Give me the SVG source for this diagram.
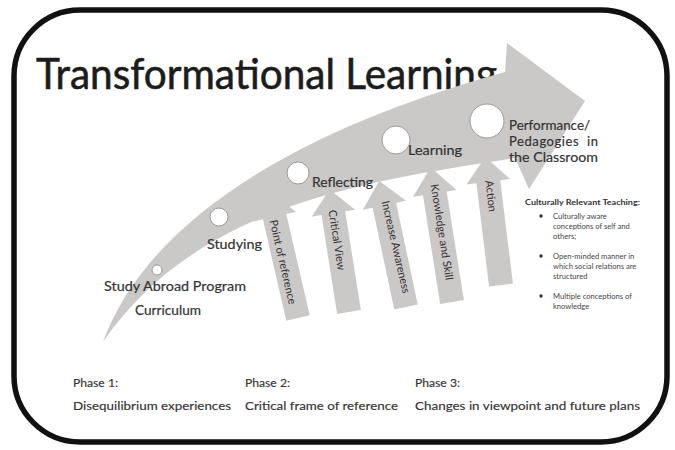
<svg xmlns="http://www.w3.org/2000/svg" width="675" height="450" viewBox="0 0 675 450">
  <style>
    .frame { fill: #ffffff; stroke: #111111; stroke-width: 5.5; }
    .band { fill: #cbc8c8; }
    .stage { fill: #ffffff; stroke: #9a9898; stroke-width: 1; }
    .title { font-family: Lato, "Liberation Sans", sans-serif; font-size: 43px; fill: #1c1c1c; stroke: #1c1c1c; stroke-width: 0.6; }
    .lbl { font-family: Lato, "Liberation Sans", sans-serif; font-size: 13px; fill: #333333; stroke: #333333; stroke-width: 0.2; white-space: pre; }
    .ph { font-family: Lato, "Liberation Sans", sans-serif; font-size: 12px; fill: #333333; stroke: #333333; stroke-width: 0.15; }
    .in { font-family: Lato, "Liberation Sans", sans-serif; font-size: 11px; fill: #333333; text-anchor: middle; }
    .crt { font-family: Lato, "Liberation Sans", sans-serif; font-size: 7.6px; fill: #444444; }
    .crt-h { font-weight: bold; fill: #333333; }
  </style>
  <defs>
    <!-- upward input arrow, origin at the bottom centre of the shaft -->
    <polygon id="upArrow" points="-12,0 -12,-100 -22,-100 0,-124 22,-100 12,-100 12,0"/>
  </defs>

  <rect class="frame" x="14" y="10" width="653" height="432" rx="66" ry="66"/>

  <text class="title" x="36" y="89" textLength="461" lengthAdjust="spacingAndGlyphs">Transformational Learning</text>

  <!-- input arrows feeding into the main curve -->
  <g id="connectors" class="band">
    <g id="in-point"><use href="#upArrow" transform="translate(298,318) rotate(-13) scale(1,1.04)"/></g>
    <g id="in-critical"><use href="#upArrow" transform="translate(349,312) rotate(-9)"/></g>
    <g id="in-awareness"><use href="#upArrow" transform="translate(406,307) rotate(-12) scale(1,1.04)"/></g>
    <g id="in-knowledge"><use href="#upArrow" transform="translate(452,302) rotate(-9) scale(1,1.1)"/></g>
    <g id="in-action"><use href="#upArrow" transform="translate(501,285) rotate(-7) scale(1,1.04)"/></g>
  </g>

  <!-- main curved arrow -->
  <g id="flow">
    <path class="band" d="M103 342 C140 240 260 140 505 72 L507 43 L585 101 L529 189 L515 158 C380 180 200 200 103 342 Z"/>
  </g>

  <!-- labels on the input arrows -->
  <g id="input-labels">
    <text class="in" transform="translate(283,262) rotate(77)" dy="0.35em">Point of reference</text>
    <text class="in" transform="translate(337,240) rotate(81)" dy="0.35em">Critical View</text>
    <text class="in" transform="translate(396,247) rotate(77)" dy="0.35em">Increase Awareness</text>
    <text class="in" transform="translate(442,232) rotate(81)" dy="0.35em">Knowledge and Skill</text>
    <text class="in" transform="translate(491,196) rotate(83)" dy="0.35em">Action</text>
  </g>

  <!-- stages along the curve -->
  <g id="stage-curriculum">
    <circle class="stage" cx="157" cy="270" r="5"/>
    <text class="lbl" x="104" y="291" textLength="142" lengthAdjust="spacingAndGlyphs">Study Abroad Program</text>
    <text class="lbl" x="135" y="315" textLength="66" lengthAdjust="spacingAndGlyphs">Curriculum</text>
  </g>
  <g id="stage-studying">
    <circle class="stage" cx="219" cy="217" r="9"/>
    <text class="lbl" x="207" y="249" textLength="55" lengthAdjust="spacingAndGlyphs">Studying</text>
  </g>
  <g id="stage-reflecting">
    <circle class="stage" cx="298" cy="173" r="11"/>
    <text class="lbl" x="312" y="187" textLength="61" lengthAdjust="spacingAndGlyphs">Reflecting</text>
  </g>
  <g id="stage-learning">
    <circle class="stage" cx="396" cy="140" r="14"/>
    <text class="lbl" x="408" y="155" textLength="54" lengthAdjust="spacingAndGlyphs">Learning</text>
  </g>
  <g id="stage-performance">
    <circle class="stage" cx="487" cy="121" r="17"/>
    <text class="lbl" x="509" y="130" textLength="81" lengthAdjust="spacingAndGlyphs">Performance/</text>
    <text class="lbl" x="509" y="146" textLength="89" lengthAdjust="spacing">Pedagogies  in</text>
    <text class="lbl" x="509" y="162" textLength="89" lengthAdjust="spacingAndGlyphs">the Classroom</text>
  </g>

  <!-- culturally relevant teaching notes -->
  <g id="crt">
    <text class="crt crt-h" x="525" y="205" textLength="115" lengthAdjust="spacingAndGlyphs">Culturally Relevant Teaching:</text>
    <circle cx="541" cy="216" r="1.7" fill="#333"/>
    <text class="crt" x="553" y="219">Culturally aware</text>
    <text class="crt" x="553" y="229">conceptions of self and</text>
    <text class="crt" x="553" y="239">others;</text>
    <circle cx="541" cy="256" r="1.7" fill="#333"/>
    <text class="crt" x="553" y="259">Open-minded manner in</text>
    <text class="crt" x="553" y="269">which social relations are</text>
    <text class="crt" x="553" y="279">structured</text>
    <circle cx="541" cy="296" r="1.7" fill="#333"/>
    <text class="crt" x="553" y="299">Multiple conceptions of</text>
    <text class="crt" x="553" y="309">knowledge</text>
  </g>

  <!-- phases -->
  <g id="phase-1">
    <text class="ph" x="73" y="387" textLength="45" lengthAdjust="spacingAndGlyphs">Phase 1:</text>
    <text class="ph" x="73" y="410" textLength="158" lengthAdjust="spacingAndGlyphs">Disequilibrium experiences</text>
  </g>
  <g id="phase-2">
    <text class="ph" x="245" y="387" textLength="45" lengthAdjust="spacingAndGlyphs">Phase 2:</text>
    <text class="ph" x="245" y="410" textLength="153" lengthAdjust="spacingAndGlyphs">Critical frame of reference</text>
  </g>
  <g id="phase-3">
    <text class="ph" x="415" y="387" textLength="45" lengthAdjust="spacingAndGlyphs">Phase 3:</text>
    <text class="ph" x="415" y="410" textLength="225" lengthAdjust="spacingAndGlyphs">Changes in viewpoint and future plans</text>
  </g>
</svg>
